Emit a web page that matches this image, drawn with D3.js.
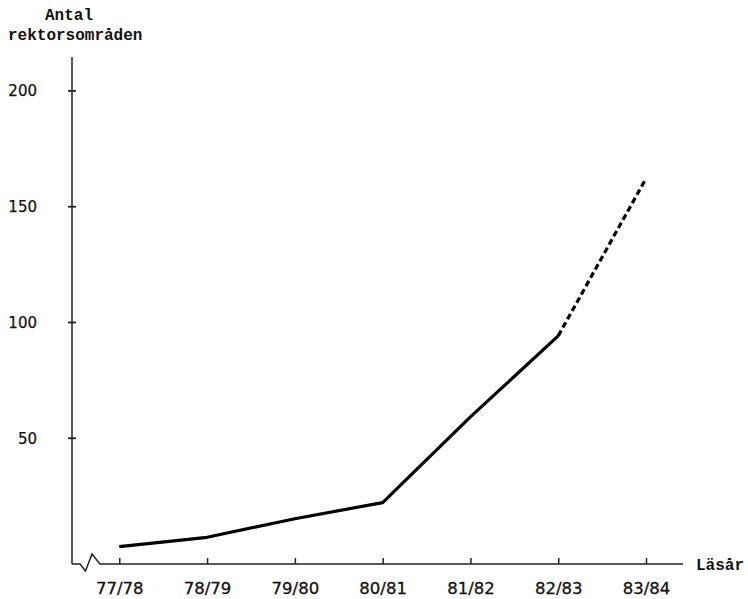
<!DOCTYPE html>
<html>
<head>
<meta charset="utf-8">
<script src="https://cdn.jsdelivr.net/npm/d3@7/dist/d3.min.js"></script>
<style>
  html, body { margin: 0; padding: 0; background: #fff; }
  svg { display: block; }
</style>
</head>
<body>
<svg id="chart" width="748" height="599"></svg>
<script>
// ---- data ----
const years = ["77/78", "78/79", "79/80", "80/81", "81/82", "82/83", "83/84"];
const values = [3, 7, 15, 22, 59, 94, 162];
const estimatedFrom = "82/83"; // dashed segment from here onward (prognosis)
const yTicks = [50, 100, 150, 200];
const yTitle = ["Antal", "rektorsområden"];
const xTitle = "Läsår";

// ---- layout ----
const svg = d3.select("#chart");
const axisX0 = 72, axisY0 = 564, axisTop = 57, axisRight = 683;

const x = d3.scalePoint().domain(years).range([119.3, 646]);
const y = d3.scaleLinear().domain([0, 200]).range([553.5, 90.5]);

const ink = "#111";
const mono = "'Liberation Mono', 'DejaVu Sans Mono', monospace";
const sans = "'DejaVu Sans', 'Liberation Sans', sans-serif";

// y axis line
svg.append("line")
  .attr("x1", axisX0).attr("x2", axisX0)
  .attr("y1", axisTop).attr("y2", axisY0)
  .attr("stroke", "#222").attr("stroke-width", 1.5);

// x axis line with break zigzag
svg.append("path")
  .attr("d", `M${axisX0},${axisY0} L80,${axisY0} L85.5,571 L92,554 L100,${axisY0} L${axisRight},${axisY0}`)
  .attr("fill", "none").attr("stroke", "#222").attr("stroke-width", 1.5)
  .attr("stroke-linejoin", "miter");

// y axis ticks (crossing marks) + labels
const yAxis = d3.axisLeft(y).tickValues(yTicks).tickSize(4).tickPadding(31);
const gy = svg.append("g").attr("transform", `translate(${axisX0},0)`).call(yAxis);
gy.select(".domain").remove();
gy.selectAll(".tick line").attr("x1", -4).attr("x2", 4).attr("stroke", "#222").attr("stroke-width", 1.8);
gy.selectAll(".tick text")
  .attr("font-family", sans).attr("font-size", 15).attr("fill", ink)
  .attr("dy", "0.36em")
  .attr("stroke", ink).attr("stroke-width", 0.25);

// x axis ticks (upward) + labels
const xAxis = d3.axisBottom(x).tickSize(0).tickPadding(0);
const gx = svg.append("g").attr("transform", `translate(0,${axisY0})`).call(xAxis);
gx.select(".domain").remove();
gx.selectAll(".tick line").attr("y1", 0).attr("y2", -6).attr("stroke", "#222").attr("stroke-width", 1.5);
gx.selectAll(".tick text")
  .attr("font-family", sans).attr("font-size", 16.5).attr("fill", ink)
  .attr("dy", null).attr("y", 30)
  .attr("stroke", ink).attr("stroke-width", 0.3);

// titles
const tTitle = svg.append("g")
  .attr("font-family", mono).attr("font-weight", "bold").attr("font-size", 16).attr("fill", ink);
tTitle.append("text").attr("x", 69).attr("y", 20).attr("text-anchor", "middle").text(yTitle[0]);
tTitle.append("text").attr("x", 8).attr("y", 40).text(yTitle[1]);
tTitle.append("text").attr("x", 696).attr("y", 570).text(xTitle);

// data lines
const pts = years.map((d, i) => ({ year: d, value: values[i] }));
const splitIdx = years.indexOf(estimatedFrom);
const line = d3.line().x(d => x(d.year)).y(d => y(d.value));

svg.append("path")
  .datum(pts.slice(0, splitIdx + 1))
  .attr("d", line)
  .attr("fill", "none").attr("stroke", "#000").attr("stroke-width", 3.2)
  .attr("stroke-linejoin", "round");

svg.append("path")
  .datum(pts.slice(splitIdx))
  .attr("d", line)
  .attr("fill", "none").attr("stroke", "#000").attr("stroke-width", 3.2)
  .attr("stroke-dasharray", "6,3.5");
</script>
</body>
</html>
